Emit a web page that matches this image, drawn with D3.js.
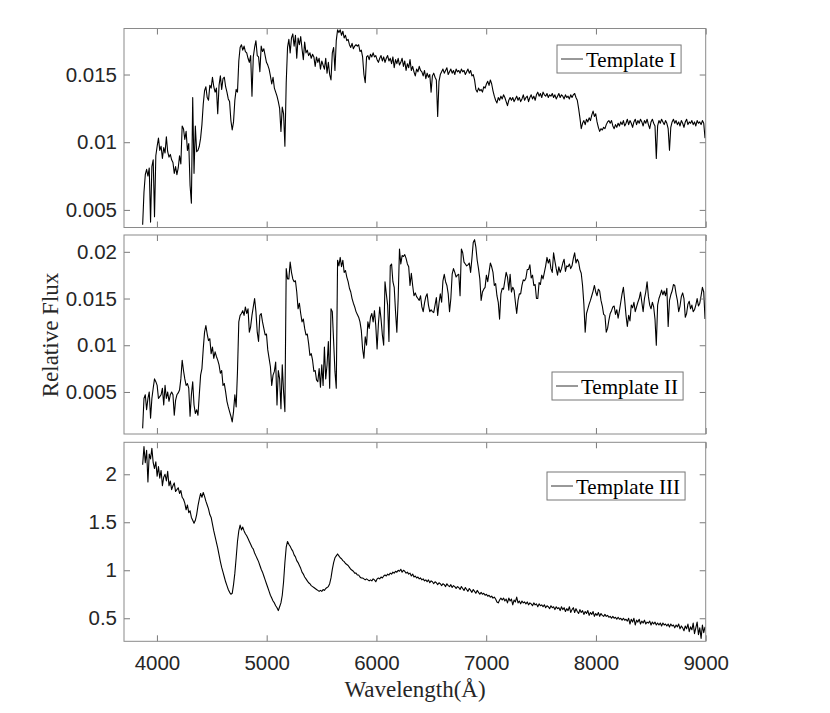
<!DOCTYPE html>
<html>
<head>
  <meta charset="utf-8">
  <style>
    html, body {
      margin: 0;
      padding: 0;
      background: #fff;
      overflow: hidden;
    }
    svg { display: block; }
    .tick text {
      font-family: "Liberation Sans", Arial, sans-serif;
      font-size: 20.5px;
      fill: #262626;
    }
    .tick line { stroke: #7a7a7a; }
    .frame { fill: none; stroke: #8a8a8a; stroke-width: 1; }
    .spec { fill: none; stroke: #000; stroke-width: 1.1; stroke-linejoin: round; }
    .label {
      font-family: "Liberation Serif", "Times New Roman", serif;
      font-size: 23px;
      fill: #262626;
    }
    .legend rect { fill: #fff; stroke: #777; stroke-width: 1; }
    .legend line { stroke: #333; stroke-width: 1; }
    .legend text {
      font-family: "Liberation Serif", "Times New Roman", serif;
      font-size: 21px;
      fill: #000;
    }
  </style>
</head>
<body>
  <svg width="830" height="713"></svg>

  <script src="https://d3js.org/d3.v7.min.js"></script>
  <script>
    // spectra sampled every 12 A starting at 3870 A
    const wlStart = 3870;
    const wlStep = 12;

    const xDomain = [3700, 9000];
    const xTicks = [4000, 5000, 6000, 7000, 8000, 9000];

    const names = ["Template I", "Template II", "Template III"];

    const yDomain1 = [0.0037, 0.0184];
    const yDomain2 = [0.0005, 0.0218];
    const yDomain3 = [0.26, 2.333];

    const yTicks1 = [0.005, 0.01, 0.015];
    const yTicks2 = [0.005, 0.01, 0.015, 0.02];
    const yTicks3 = [0.5, 1, 1.5, 2];

    const flux1 = [
      0.0039, 0.0063, 0.0076, 0.0080, 0.0075, 0.0081, 0.0041, 0.0082, 0.0087, 0.0045,
      0.0090, 0.0097, 0.0103, 0.0094, 0.0097, 0.0088, 0.0096, 0.0092, 0.0104, 0.0093,
      0.0089, 0.0091, 0.0087, 0.0085, 0.0077, 0.0082, 0.0076, 0.0081, 0.0090, 0.0084,
      0.0112, 0.0110, 0.0102, 0.0108, 0.0094, 0.0099, 0.0068, 0.0055, 0.0133, 0.0077,
      0.0112, 0.0093, 0.0094, 0.0097, 0.0103, 0.0113, 0.0128, 0.0138, 0.0141, 0.0133,
      0.0131, 0.0142, 0.0140, 0.0148, 0.0141, 0.0137, 0.0140, 0.0121, 0.0142, 0.0149,
      0.0139, 0.0147, 0.0148, 0.0141, 0.0137, 0.0132, 0.0130, 0.0116, 0.0109, 0.0115,
      0.0131, 0.0139, 0.0137, 0.0160, 0.0170, 0.0172, 0.0168, 0.0171, 0.0167, 0.0166,
      0.0162, 0.0159, 0.0164, 0.0134, 0.0163, 0.0170, 0.0175, 0.0164, 0.0163, 0.0152,
      0.0171, 0.0167, 0.0169, 0.0164, 0.0159, 0.0157, 0.0154, 0.0149, 0.0143, 0.0148,
      0.0140, 0.0137, 0.0134, 0.0130, 0.0125, 0.0108, 0.0126, 0.0121, 0.0097, 0.0144,
      0.0170, 0.0176, 0.0166, 0.0177, 0.0180, 0.0171, 0.0179, 0.0162, 0.0177, 0.0172,
      0.0178, 0.0169, 0.0161, 0.0174, 0.0166, 0.0168, 0.0164, 0.0166, 0.0162, 0.0165,
      0.0163, 0.0156, 0.0163, 0.0159, 0.0162, 0.0154, 0.0160, 0.0157, 0.0154, 0.0162,
      0.0151, 0.0159, 0.0150, 0.0146, 0.0166, 0.0170, 0.0153, 0.0175, 0.0183, 0.0181,
      0.0183, 0.0179, 0.0182, 0.0177, 0.0179, 0.0175, 0.0176, 0.0172, 0.0170, 0.0173,
      0.0169, 0.0171, 0.0172, 0.0171, 0.0172, 0.0167, 0.0168, 0.0163, 0.0150, 0.0144,
      0.0163, 0.0164, 0.0161, 0.0165, 0.0163, 0.0166, 0.0163, 0.0164, 0.0161, 0.0159,
      0.0162, 0.0164, 0.0160, 0.0163, 0.0159, 0.0162, 0.0164, 0.0160, 0.0162, 0.0158,
      0.0163, 0.0155, 0.0161, 0.0158, 0.0162, 0.0157, 0.0159, 0.0162, 0.0156, 0.0160,
      0.0153, 0.0158, 0.0155, 0.0161, 0.0153, 0.0156, 0.0152, 0.0149, 0.0154, 0.0152,
      0.0156, 0.0153, 0.0152, 0.0149, 0.0153, 0.0147, 0.0151, 0.0148, 0.0150, 0.0137,
      0.0149, 0.0151, 0.0148, 0.0146, 0.0119, 0.0145, 0.0150, 0.0152, 0.0154, 0.0151,
      0.0153, 0.0155, 0.0150, 0.0152, 0.0154, 0.0151, 0.0153, 0.0150, 0.0154, 0.0152,
      0.0153, 0.0151, 0.0154, 0.0152, 0.0153, 0.0150, 0.0152, 0.0154, 0.0151, 0.0153,
      0.0149, 0.0150, 0.0146, 0.0139, 0.0137, 0.0140, 0.0138, 0.0139, 0.0137, 0.0141,
      0.0140, 0.0143, 0.0145, 0.0142, 0.0146, 0.0143, 0.0138, 0.0134, 0.0131, 0.0129,
      0.0133, 0.0131, 0.0134, 0.0132, 0.0135, 0.0133, 0.0130, 0.0127, 0.0131, 0.0133,
      0.0131, 0.0133, 0.0130, 0.0132, 0.0134, 0.0131, 0.0133, 0.0130, 0.0132, 0.0135,
      0.0131, 0.0133, 0.0134, 0.0130, 0.0133, 0.0135, 0.0132, 0.0134, 0.0131, 0.0135,
      0.0137, 0.0134, 0.0136, 0.0133, 0.0137, 0.0135, 0.0134, 0.0136, 0.0133, 0.0135,
      0.0134, 0.0136, 0.0133, 0.0135, 0.0132, 0.0134, 0.0136, 0.0133, 0.0135, 0.0134,
      0.0132, 0.0135, 0.0133, 0.0134, 0.0132, 0.0135, 0.0133, 0.0135, 0.0136, 0.0133,
      0.0131, 0.0125, 0.0118, 0.0110, 0.0114, 0.0116, 0.0113, 0.0117, 0.0115, 0.0118,
      0.0116, 0.0120, 0.0123, 0.0119, 0.0121, 0.0115, 0.0111, 0.0108, 0.0110, 0.0109,
      0.0111, 0.0110, 0.0113, 0.0115, 0.0116, 0.0114, 0.0116, 0.0112, 0.0110, 0.0113,
      0.0111, 0.0114, 0.0112, 0.0115, 0.0113, 0.0116, 0.0112, 0.0114, 0.0117, 0.0113,
      0.0116, 0.0114, 0.0111, 0.0115, 0.0117, 0.0113, 0.0116, 0.0114, 0.0117, 0.0115,
      0.0112, 0.0116, 0.0114, 0.0117, 0.0113, 0.0110, 0.0115, 0.0117, 0.0114, 0.0112,
      0.0088, 0.0112, 0.0116, 0.0114, 0.0117, 0.0115, 0.0113, 0.0116, 0.0114, 0.0110,
      0.0094, 0.0111, 0.0115, 0.0117, 0.0114, 0.0116, 0.0113, 0.0115, 0.0112, 0.0116,
      0.0114, 0.0111, 0.0115, 0.0117, 0.0113, 0.0115, 0.0114, 0.0116, 0.0113, 0.0115,
      0.0112, 0.0116, 0.0114, 0.0115, 0.0113, 0.0116, 0.0114, 0.0103
    ];

    const flux2 = [
      0.0011, 0.0043, 0.0047, 0.0031, 0.0043, 0.0050, 0.0022, 0.0043, 0.0054, 0.0064,
      0.0061, 0.0057, 0.0043, 0.0045, 0.0047, 0.0054, 0.0036, 0.0057, 0.0043, 0.0050,
      0.0040, 0.0047, 0.0050, 0.0047, 0.0025, 0.0041, 0.0047, 0.0049, 0.0052, 0.0064,
      0.0084, 0.0073, 0.0064, 0.0057, 0.0059, 0.0054, 0.0024, 0.0047, 0.0061, 0.0036,
      0.0027, 0.0031, 0.0025, 0.0047, 0.0068, 0.0075, 0.0096, 0.0114, 0.0121, 0.0112,
      0.0105, 0.0107, 0.0091, 0.0098, 0.0086, 0.0093, 0.0088, 0.0084, 0.0079, 0.0070,
      0.0073, 0.0057, 0.0059, 0.0050, 0.0040, 0.0034, 0.0029, 0.0024, 0.0018, 0.0029,
      0.0047, 0.0034, 0.0072, 0.0125, 0.0132, 0.0134, 0.0137, 0.0132, 0.0141, 0.0134,
      0.0139, 0.0114, 0.0120, 0.0132, 0.0141, 0.0150, 0.0136, 0.0114, 0.0104, 0.0132,
      0.0134, 0.0125, 0.0118, 0.0111, 0.0112, 0.0095, 0.0086, 0.0077, 0.0057, 0.0068,
      0.0072, 0.0082, 0.0036, 0.0073, 0.0064, 0.0032, 0.0079, 0.0050, 0.0029, 0.0182,
      0.0171, 0.0171, 0.0189, 0.0178, 0.0171, 0.0168, 0.0169, 0.0157, 0.0139, 0.0145,
      0.0134, 0.0125, 0.0128, 0.0118, 0.0111, 0.0112, 0.0102, 0.0089, 0.0091, 0.0084,
      0.0072, 0.0073, 0.0063, 0.0061, 0.0075, 0.0055, 0.0079, 0.0057, 0.0098, 0.0064,
      0.0079, 0.0104, 0.0054, 0.0139, 0.0136, 0.0104, 0.0072, 0.0054, 0.0191, 0.0185,
      0.0194, 0.0184, 0.0191, 0.0178, 0.0180, 0.0173, 0.0168, 0.0161, 0.0157, 0.0150,
      0.0145, 0.0141, 0.0136, 0.0133, 0.0130, 0.0125, 0.0116, 0.0096, 0.0086, 0.0109,
      0.0100, 0.0125, 0.0118, 0.0130, 0.0134, 0.0125, 0.0137, 0.0121, 0.0096, 0.0123,
      0.0141, 0.0128, 0.0111, 0.0100, 0.0168, 0.0155, 0.0143, 0.0104, 0.0185, 0.0187,
      0.0168, 0.0162, 0.0136, 0.0114, 0.0150, 0.0203, 0.0187, 0.0196, 0.0195, 0.0197,
      0.0193, 0.0187, 0.0184, 0.0164, 0.0177, 0.0164, 0.0153, 0.0156, 0.0152, 0.0150,
      0.0148, 0.0153, 0.0141, 0.0136, 0.0145, 0.0152, 0.0155, 0.0143, 0.0136, 0.0138,
      0.0136, 0.0135, 0.0143, 0.0151, 0.0132, 0.0145, 0.0155, 0.0146, 0.0169, 0.0176,
      0.0168, 0.0164, 0.0155, 0.0136, 0.0150, 0.0176, 0.0182, 0.0178, 0.0173, 0.0175,
      0.0176, 0.0153, 0.0203, 0.0199, 0.0189, 0.0187, 0.0185, 0.0186, 0.0188, 0.0178,
      0.0193, 0.0210, 0.0213, 0.0205, 0.0191, 0.0182, 0.0171, 0.0148, 0.0157, 0.0160,
      0.0162, 0.0175, 0.0168, 0.0178, 0.0188, 0.0184, 0.0178, 0.0164, 0.0166, 0.0153,
      0.0146, 0.0128, 0.0155, 0.0161, 0.0160, 0.0169, 0.0178, 0.0173, 0.0159, 0.0176,
      0.0157, 0.0162, 0.0159, 0.0146, 0.0134, 0.0148, 0.0155, 0.0155, 0.0164, 0.0170,
      0.0169, 0.0172, 0.0181, 0.0181, 0.0186, 0.0172, 0.0175, 0.0164, 0.0165, 0.0150,
      0.0150, 0.0167, 0.0165, 0.0175, 0.0171, 0.0178, 0.0185, 0.0194, 0.0188, 0.0192,
      0.0182, 0.0178, 0.0199, 0.0190, 0.0182, 0.0175, 0.0184, 0.0178, 0.0182, 0.0188,
      0.0192, 0.0179, 0.0185, 0.0184, 0.0187, 0.0182, 0.0185, 0.0193, 0.0199, 0.0188,
      0.0192, 0.0189, 0.0181, 0.0177, 0.0164, 0.0144, 0.0114, 0.0134, 0.0139, 0.0144,
      0.0148, 0.0153, 0.0158, 0.0164, 0.0157, 0.0153, 0.0160, 0.0158, 0.0148, 0.0142,
      0.0133, 0.0132, 0.0114, 0.0118, 0.0127, 0.0134, 0.0137, 0.0141, 0.0142, 0.0133,
      0.0138, 0.0129, 0.0137, 0.0146, 0.0155, 0.0162, 0.0148, 0.0132, 0.0120, 0.0132,
      0.0126, 0.0143, 0.0140, 0.0146, 0.0136, 0.0141, 0.0146, 0.0150, 0.0157, 0.0146,
      0.0136, 0.0150, 0.0157, 0.0168, 0.0152, 0.0143, 0.0139, 0.0146, 0.0141, 0.0128,
      0.0100, 0.0143, 0.0150, 0.0154, 0.0159, 0.0154, 0.0158, 0.0153, 0.0161, 0.0120,
      0.0148, 0.0154, 0.0158, 0.0165, 0.0164, 0.0155, 0.0148, 0.0136, 0.0142, 0.0152,
      0.0156, 0.0150, 0.0130, 0.0134, 0.0144, 0.0147, 0.0139, 0.0143, 0.0136, 0.0138,
      0.0143, 0.0150, 0.0142, 0.0145, 0.0153, 0.0162, 0.0157, 0.0128
    ];

    const flux3 = [
      2.10, 2.29, 2.12, 2.25, 1.92, 2.21, 2.16, 2.27, 2.12, 2.06,
      2.13, 1.98, 2.08, 1.96, 2.04, 1.88, 1.97, 2.00, 1.93, 2.03,
      1.88, 1.93, 1.84, 1.88, 1.91, 1.82, 1.84, 1.86, 1.80, 1.83,
      1.76, 1.74, 1.70, 1.63, 1.68, 1.60, 1.62, 1.55, 1.52, 1.49,
      1.52, 1.58, 1.67, 1.74, 1.80, 1.76, 1.81, 1.77, 1.72, 1.68,
      1.64, 1.58, 1.55, 1.48, 1.41, 1.35, 1.29, 1.23, 1.16, 1.09,
      1.03, 0.98, 0.93, 0.88, 0.84, 0.80, 0.77, 0.75, 0.76, 0.85,
      0.97, 1.13, 1.30, 1.41, 1.47, 1.42, 1.45, 1.41, 1.38, 1.36,
      1.33, 1.30, 1.27, 1.24, 1.22, 1.18, 1.15, 1.12, 1.09, 1.05,
      1.01, 0.98, 0.94, 0.90, 0.86, 0.82, 0.78, 0.74, 0.71, 0.68,
      0.66, 0.63, 0.61, 0.58, 0.62, 0.66, 0.74, 0.88, 1.08, 1.24,
      1.30, 1.27, 1.25, 1.22, 1.20, 1.16, 1.14, 1.10, 1.08, 1.05,
      1.02, 0.98, 0.96, 0.93, 0.91, 0.89, 0.87, 0.86, 0.84, 0.83,
      0.82, 0.81, 0.80, 0.79, 0.78, 0.79, 0.78, 0.80, 0.79, 0.81,
      0.82, 0.83, 0.86, 0.92, 1.01, 1.08, 1.13, 1.15, 1.17, 1.15,
      1.13, 1.12, 1.10, 1.09, 1.07, 1.06, 1.05, 1.03, 1.01, 1.00,
      0.99, 0.97, 0.97, 0.95, 0.95, 0.93, 0.92, 0.92, 0.91, 0.90,
      0.91, 0.90, 0.89, 0.90, 0.89, 0.91, 0.90, 0.88, 0.91, 0.92,
      0.91, 0.93, 0.92, 0.94, 0.95, 0.94, 0.96, 0.95, 0.97, 0.96,
      0.98, 0.97, 0.99, 0.98, 1.00, 0.99, 1.01, 0.98, 1.00, 0.99,
      0.97, 0.98, 0.96, 0.97, 0.94, 0.96, 0.93, 0.94, 0.92, 0.93,
      0.91, 0.92, 0.90, 0.91, 0.89, 0.90, 0.88, 0.90, 0.87, 0.89,
      0.88, 0.86, 0.88, 0.87, 0.85, 0.87, 0.86, 0.84, 0.86, 0.85,
      0.83, 0.86, 0.84, 0.83, 0.85, 0.82, 0.84, 0.83, 0.81, 0.83,
      0.82, 0.80, 0.83, 0.81, 0.79, 0.82, 0.80, 0.78, 0.81, 0.79,
      0.77, 0.80, 0.78, 0.76, 0.79, 0.77, 0.75, 0.77, 0.75, 0.76,
      0.74, 0.75, 0.73, 0.74, 0.72, 0.73, 0.71, 0.72, 0.70, 0.67,
      0.66, 0.69, 0.71, 0.69, 0.71, 0.68, 0.70, 0.66, 0.71, 0.68,
      0.70, 0.64, 0.69, 0.67, 0.72, 0.66, 0.68, 0.65, 0.68, 0.66,
      0.67, 0.65, 0.67, 0.64, 0.66, 0.65, 0.63, 0.66, 0.64, 0.65,
      0.62, 0.65, 0.63, 0.64, 0.62, 0.64, 0.61, 0.63, 0.62, 0.60,
      0.63, 0.61, 0.62, 0.59, 0.62, 0.60, 0.61, 0.58, 0.62, 0.59,
      0.61, 0.57, 0.60, 0.58, 0.62, 0.56, 0.59, 0.61, 0.56, 0.60,
      0.57, 0.55, 0.59, 0.56, 0.58, 0.54, 0.57, 0.55, 0.58, 0.53,
      0.56, 0.54, 0.57, 0.52, 0.55, 0.53, 0.56, 0.52, 0.55, 0.53,
      0.52, 0.54, 0.52, 0.53, 0.51, 0.52, 0.50, 0.52, 0.50, 0.51,
      0.49, 0.51, 0.49, 0.50, 0.48, 0.50, 0.48, 0.49, 0.47, 0.50,
      0.44, 0.49, 0.46, 0.50, 0.43, 0.48, 0.46, 0.49, 0.44, 0.47,
      0.45, 0.48, 0.44, 0.46, 0.45, 0.47, 0.43, 0.46, 0.44, 0.46,
      0.43, 0.45, 0.43, 0.45, 0.42, 0.45, 0.43, 0.44, 0.42, 0.44,
      0.41, 0.44, 0.42, 0.43, 0.40, 0.43, 0.41, 0.44, 0.39, 0.42,
      0.40, 0.37, 0.42, 0.39, 0.44, 0.36, 0.41, 0.38, 0.45, 0.34,
      0.40, 0.46, 0.33, 0.40, 0.29, 0.43, 0.35, 0.41
    ];

    const svg = d3.select("svg");

    const left = 124, right = 705.7;
    const panelH = 199;
    const tops = [28.5, 235, 442.3];
    const legendLeft = [557, 552, 547];
    const legendTop = [45, 372, 472];

    const panels = [
      { flux: flux1, yDomain: yDomain1, yTicks: yTicks1 },
      { flux: flux2, yDomain: yDomain2, yTicks: yTicks2 },
      { flux: flux3, yDomain: yDomain3, yTicks: yTicks3 }
    ];

    const x = d3.scaleLinear().domain(xDomain).range([0, right - left]);
    const w = right - left;

    panels.forEach((p, k) => {
      const y = d3.scaleLinear().domain(p.yDomain).range([panelH, 0]);
      const g = svg.append("g").attr("transform", `translate(${left},${tops[k]})`);

      g.append("clipPath").attr("id", "clip" + k)
        .append("rect").attr("width", w).attr("height", panelH);

      const line = d3.line()
        .x((d, i) => x(wlStart + i * wlStep))
        .y(d => y(d));

      g.append("path")
        .datum(p.flux)
        .attr("class", "spec")
        .attr("clip-path", `url(#clip${k})`)
        .attr("d", line);

      const last = k === panels.length - 1;

      g.append("g")
        .attr("transform", `translate(0,${panelH})`)
        .call(d3.axisBottom(x).tickValues(xTicks).tickSize(-6).tickPadding(14)
          .tickFormat(last ? d3.format("d") : () => ""))
        .call(a => a.select(".domain").remove());

      g.append("g")
        .call(d3.axisTop(x).tickValues(xTicks).tickSize(-6).tickFormat(() => ""))
        .call(a => a.select(".domain").remove());

      g.append("g")
        .call(d3.axisLeft(y).tickValues(p.yTicks).tickSize(-6).tickPadding(7)
          .tickFormat(d => String(d)))
        .call(a => a.select(".domain").remove());

      g.append("g")
        .attr("transform", `translate(${w},0)`)
        .call(d3.axisRight(y).tickValues(p.yTicks).tickSize(-6).tickFormat(() => ""))
        .call(a => a.select(".domain").remove());

      g.append("rect")
        .attr("class", "frame")
        .attr("width", w)
        .attr("height", panelH);

      // legend
      const lg = svg.append("g").attr("class", "legend")
        .attr("transform", `translate(${legendLeft[k]},${legendTop[k]})`);
      const box = lg.append("rect").attr("height", 28);
      lg.append("line").attr("x1", 4).attr("x2", 26).attr("y1", 14).attr("y2", 14);
      const t = lg.append("text").attr("x", 29).attr("y", 21.5).text(names[k]);
      box.attr("width", 29 + t.node().getComputedTextLength() + 5);
    });

    svg.append("text")
      .attr("class", "label")
      .attr("text-anchor", "middle")
      .attr("transform", "translate(58,335) rotate(-90)")
      .text("Relative Flux");

    svg.append("text")
      .attr("class", "label")
      .attr("text-anchor", "middle")
      .attr("x", 415)
      .attr("y", 697)
      .text("Wavelength(Å)");
  </script>
</body>
</html>
